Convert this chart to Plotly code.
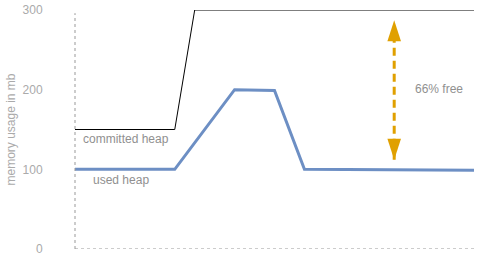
import plotly.graph_objects as go

# data
committed_x = [0, 2.5, 3, 10]
committed_y = [150, 150, 300, 300]
used_x = [0, 2.5, 4, 5, 5.75, 10]
used_y = [100, 100, 200, 199, 100, 99]
arrow_x = [8, 8]
arrow_y = [112, 287]
y_ticks = [0, 100, 200, 300]
labels = [("committed heap", 1.28, 138), ("used heap", 1.15, 87), ("66% free", 9.12, 201)]

fig = go.Figure()
fig.add_trace(go.Scatter(x=committed_x, y=committed_y, mode="lines",
                         line=dict(color="black", width=1), cliponaxis=False, hoverinfo="skip"))
fig.add_trace(go.Scatter(x=used_x, y=used_y, mode="lines",
                         line=dict(color="#6d8fc4", width=3), cliponaxis=False, hoverinfo="skip"))
fig.add_trace(go.Scatter(x=arrow_x, y=arrow_y, mode="lines+markers",
                         line=dict(color="#e0a000", width=3, dash="8px,5px"),
                         marker=dict(symbol="arrow", size=22, angleref="previous", color="#e0a000"),
                         cliponaxis=False, hoverinfo="skip"))
# arrowheads in both directions
fig.add_trace(go.Scatter(x=arrow_x[::-1], y=arrow_y[::-1], mode="markers",
                         marker=dict(symbol="arrow", size=22, angleref="previous", color="#e0a000"),
                         cliponaxis=False, hoverinfo="skip"))

for t, x, y in labels:
    fig.add_annotation(x=x, y=y, text=t, showarrow=False,
                       font=dict(color="#909090", size=12))

# dashed axis lines
fig.add_shape(type="line", xref="paper", yref="y", x0=0, x1=0, y0=0, y1=296,
              line=dict(color="#999", width=1, dash="3px,3px"))
fig.add_shape(type="line", xref="paper", yref="y", x0=0, x1=1, y0=0, y1=0,
              line=dict(color="#999", width=1, dash="3px,3px"))

fig.update_layout(
    width=478, height=261,
    margin=dict(l=75, r=4, t=10, b=12),
    paper_bgcolor="white", plot_bgcolor="white",
    showlegend=False,
    font=dict(family="Liberation Sans, Arial, sans-serif", size=12, color="#999"),
    xaxis=dict(range=[0, 10], showgrid=False, zeroline=False, showticklabels=False,
               showline=False, ticks=""),
    yaxis=dict(range=[0, 300], tickvals=y_ticks, showgrid=False, zeroline=False,
               showline=False, ticks="outside", ticklen=29, tickcolor="rgba(0,0,0,0)",
               tickfont=dict(color="#aaa", size=12),
               title=dict(text="memory usage in mb", font=dict(color="#aaa", size=12), standoff=4)),
)
fig.write_html("out.html")
